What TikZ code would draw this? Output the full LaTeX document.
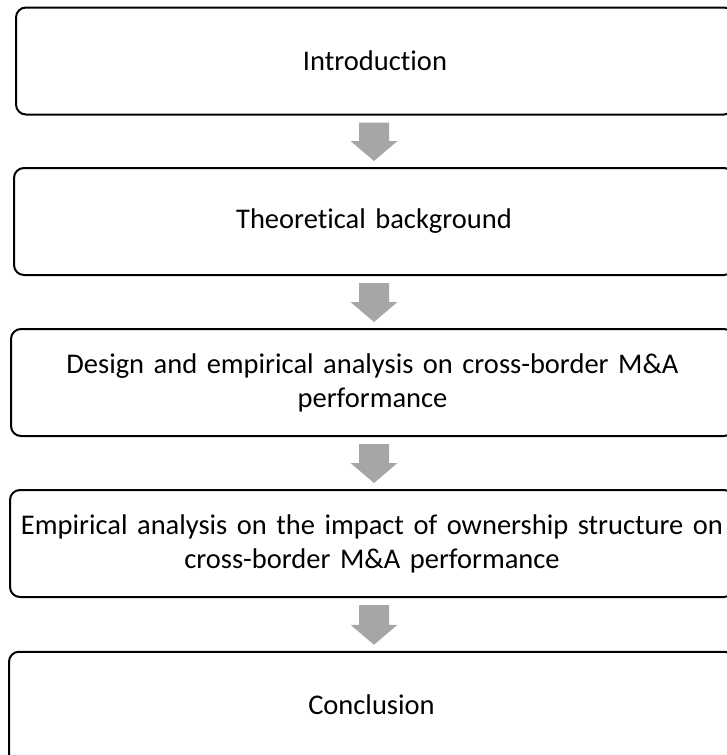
\documentclass[tikz,border=0pt]{standalone}
\usepackage{fontspec}
\setmainfont[Ligatures=NoCommon]{Carlito}
\usetikzlibrary{calc}
\definecolor{arrowgray}{HTML}{A6A6A6}
\newcommand{\stagearrow}[2]{%
  \coordinate (#1-t) at (374,0 |- #1.south);
  \coordinate (#2-b) at (374,0 |- #2.north);
  \fill[arrowgray] ($(#1-t)+(-15,7)$) -- ($(#1-t)+(15,7)$) -- ($(#2-b)+(15,-26)$) --
    ($(#2-b)+(23.5,-26)$) -- ($(#2-b)+(0,-6)$) -- ($(#2-b)+(-23.5,-26)$) --
    ($(#2-b)+(-15,-26)$) -- cycle;}
\begin{document}
\begin{tikzpicture}[x=1pt,y=-1pt,
  stage/.style={draw=black, line width=2pt, rounded corners=10pt, anchor=west,
    minimum height=107pt, inner sep=0pt, align=center,
    font=\fontsize{28.5}{34}\selectfont}]
\useasboundingbox (0,0) rectangle (727,755);
\clip (0,0) rectangle (727,755);
\node[stage, text width=718pt] (intro) at (15,61) {Introduction};
\node[stage, text width=720pt] (theory) at (13,221.5) {Theoretical background};
\node[stage, text width=723pt] (design) at (10,382.5) {Design and empirical analysis on cross-border M\&A\\performance};
\node[stage, text width=724pt] (impact) at (9,543.5) {Empirical analysis on the impact of ownership structure on\\cross-border M\&A performance};
\node[stage, text width=725pt, minimum height=0pt, text height=62.5pt, text depth=120pt] (concl) at (8,743) {Conclusion};
\stagearrow{intro}{theory}
\stagearrow{theory}{design}
\stagearrow{design}{impact}
\stagearrow{impact}{concl}
\end{tikzpicture}
\end{document}
